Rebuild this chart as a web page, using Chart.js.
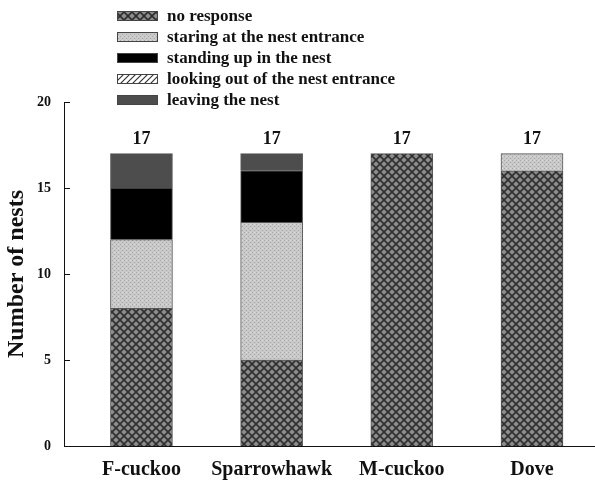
<!DOCTYPE html>
<html>
<head>
<meta charset="utf-8">
<script src="https://cdn.jsdelivr.net/npm/chart.js@4/dist/chart.umd.min.js"></script>
<style>
html, body { margin: 0; padding: 0; background: #fff; overflow: hidden; }
#wrap { width: 595px; height: 484px; position: relative; }
</style>
</head>
<body>
<div id="wrap"><canvas id="nests"></canvas></div>
<script>
// categories and the stacked values (number of nests)
const categories = ['F-cuckoo', 'Sparrowhawk', 'M-cuckoo', 'Dove'];
const noResponse = [8, 5, 17, 16];
const staring = [4, 8, 0, 1];
const standingUp = [3, 3, 0, 0];
const lookingOut = [0, 0, 0, 0];
const leaving = [2, 1, 0, 0];
const totals = [17, 17, 17, 17];
const yTicks = [0, 5, 10, 15, 20];
const seriesNames = [
  'no response',
  'staring at the nest entrance',
  'standing up in the nest',
  'looking out of the nest entrance',
  'leaving the nest'
];

const serif = "'Liberation Serif', 'Times New Roman', serif";

// little pattern tiles for the fills
function makeTile(size, draw) {
  const c = document.createElement('canvas');
  c.width = size; c.height = size;
  const g = c.getContext('2d');
  draw(g, size);
  return document.getElementById('nests').getContext('2d').createPattern(c, 'repeat');
}

const crossHatch = makeTile(8, (g, s) => {
  g.fillStyle = '#8c8c8c';
  g.fillRect(0, 0, s, s);
  g.strokeStyle = '#2e2e2e';
  g.lineWidth = 1.6;
  g.beginPath();
  g.moveTo(-1, -1); g.lineTo(s + 1, s + 1);
  g.moveTo(s + 1, -1); g.lineTo(-1, s + 1);
  g.stroke();
});

const stipple = makeTile(4, (g, s) => {
  g.fillStyle = '#c9c9c9';
  g.fillRect(0, 0, s, s);
  g.fillStyle = '#a8a8a8';
  g.fillRect(0, 0, 1, 1);
  g.fillRect(2, 2, 1, 1);
  g.fillStyle = '#dcdcdc';
  g.fillRect(2, 0, 1, 1);
});

const diagHatch = makeTile(6, (g, s) => {
  g.fillStyle = '#ffffff';
  g.fillRect(0, 0, s, s);
  g.strokeStyle = '#333';
  g.lineWidth = 1.2;
  g.beginPath();
  g.moveTo(0, s); g.lineTo(s, 0);
  g.moveTo(-1, 1); g.lineTo(1, -1);
  g.moveTo(s - 1, s + 1); g.lineTo(s + 1, s - 1);
  g.stroke();
});

const fills = [crossHatch, stipple, '#000000', diagHatch, '#4d4d4d'];
const seriesValues = [noResponse, staring, standingUp, lookingOut, leaving];

// legend drawn as one column above the plot
const columnLegend = {
  id: 'columnLegend',
  afterDraw(chart) {
    const ctx = chart.ctx;
    ctx.save();
    ctx.font = 'bold 17px ' + serif;
    ctx.textBaseline = 'middle';
    seriesNames.forEach((name, i) => {
      const y = 16 + i * 21;
      ctx.fillStyle = fills[i];
      ctx.fillRect(117, y - 5, 41, 10);
      ctx.strokeStyle = '#444';
      ctx.lineWidth = 1;
      ctx.strokeRect(117.5, y - 4.5, 40, 9);
      ctx.fillStyle = '#111';
      ctx.fillText(name, 167, y + 1);
    });
    ctx.restore();
  }
};

// totals above the bars and inward y ticks
const extras = {
  id: 'extras',
  afterDatasetsDraw(chart) {
    const ctx = chart.ctx;
    const xs = chart.scales.x;
    const ys = chart.scales.y;
    ctx.save();
    ctx.font = 'bold 18px ' + serif;
    ctx.fillStyle = '#111';
    ctx.textAlign = 'center';
    ctx.textBaseline = 'bottom';
    totals.forEach((t, i) => {
      ctx.fillText(String(t), xs.getPixelForValue(i), ys.getPixelForValue(t) - 5);
    });
    ctx.strokeStyle = '#111';
    ctx.lineWidth = 1;
    const left = chart.chartArea.left;
    yTicks.forEach(v => {
      const y = Math.round(ys.getPixelForValue(v)) + 0.5;
      ctx.beginPath();
      ctx.moveTo(left, y);
      ctx.lineTo(left + 6, y);
      ctx.stroke();
    });
    ctx.restore();
  }
};

new Chart(document.getElementById('nests'), {
  type: 'bar',
  data: {
    datasets: seriesNames.map((name, k) => ({
      label: name,
      data: seriesValues[k].map((v, i) => ({ x: i, y: v })),
      backgroundColor: fills[k],
      borderColor: '#555',
      borderWidth: 1,
      barThickness: 62
    }))
  },
  options: {
    responsive: true,
    maintainAspectRatio: false,
    animation: false,
    layout: { padding: { top: 102, right: 0, bottom: 0, left: 0 } },
    plugins: {
      legend: { display: false },
      tooltip: { enabled: false }
    },
    scales: {
      x: {
        type: 'linear',
        stacked: true,
        offset: false,
        min: -0.595,
        max: 3.484,
        afterBuildTicks: s => { s.ticks = categories.map((c, i) => ({ value: i })); },
        afterFit: s => { s.height = 38; },
        grid: { display: false, drawTicks: false },
        border: { display: true, color: '#111', width: 1 },
        ticks: {
          autoSkip: false,
          maxRotation: 0,
          padding: 12,
          color: '#111',
          font: { family: serif, size: 20, weight: 'bold' },
          callback: v => categories[v] || ''
        }
      },
      y: {
        stacked: true,
        min: 0,
        max: 20,
        afterFit: s => { s.width = 64; },
        grid: { display: false, drawTicks: false },
        border: { display: true, color: '#111', width: 1 },
        ticks: {
          stepSize: 5,
          padding: 13,
          color: '#111',
          font: { family: serif, size: 14, weight: 'bold' }
        },
        title: {
          display: true,
          text: 'Number of nests',
          color: '#111',
          padding: { top: 2, bottom: 0 },
          font: { family: serif, size: 24, weight: 'bold' }
        }
      }
    }
  },
  plugins: [columnLegend, extras]
});
</script>
</body>
</html>
